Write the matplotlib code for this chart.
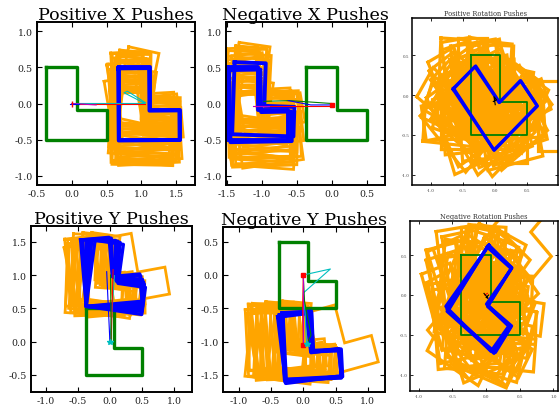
import numpy as np
import matplotlib
matplotlib.use("Agg")
import matplotlib.pyplot as plt

plt.rcParams['font.family'] = ['DejaVu Serif']
plt.rcParams['axes.unicode_minus'] = False

# L-shaped object outline in its body frame
L_X = [-0.375, 0.07, 0.07, 0.5, 0.5, -0.375]
L_Y = [0.5, 0.5, -0.09, -0.09, -0.5, -0.5]

titles = ["Positive X Pushes", "Negative X Pushes", "Positive Rotation Pushes",
          "Positive Y Pushes", "Negative Y Pushes", "Negative Rotation Pushes"]

# start pose (green) is the origin for every panel
start_pose = (0.0, 0.0, 0.0)

# orange: sampled poses (x, y, theta in degrees)
orange_posx = [(0.96, 0.22, 3), (1.02, 0.21, -5), (0.94, 0.18, -2), (1.00, 0.17, 6), (1.06, 0.18, -1),
               (0.97, 0.13, -6), (1.03, 0.12, 4), (0.93, 0.08, 5), (0.99, 0.07, -3), (1.05, 0.09, 2),
               (0.96, 0.03, -7), (1.02, 0.02, 7), (0.94, -0.02, 1), (1.00, -0.03, -4), (1.06, -0.01, 5),
               (0.97, -0.07, 3), (1.03, -0.08, -6), (0.93, -0.12, -3), (0.99, -0.11, 8), (1.05, -0.13, 0),
               (0.96, -0.17, 5), (1.02, -0.18, -2), (0.94, -0.22, -5), (1.00, -0.23, 2), (1.06, -0.21, -7),
               (0.97, -0.27, 6), (1.03, -0.28, -3), (0.93, -0.31, 1), (0.99, -0.32, -5), (1.05, -0.30, 4),
               (0.96, -0.35, -1), (1.02, -0.34, 3), (1.08, 0.22, -12), (0.92, -0.12, 10),
               (1.07, -0.05, -9), (0.95, 0.10, 9)]
orange_negx = [(-1.10, 0.28, 3), (-1.04, 0.27, -5), (-0.98, 0.25, 2), (-1.12, 0.22, -2), (-1.01, 0.20, 6),
               (-0.96, 0.17, -3), (-1.08, 0.14, 5), (-1.02, 0.11, -6), (-0.97, 0.08, 4), (-1.11, 0.05, -1),
               (-1.05, 0.02, 7), (-0.99, -0.02, -4), (-1.09, -0.05, 2), (-0.95, -0.07, 6), (-1.03, -0.10, -7),
               (-1.12, -0.13, 4), (-0.98, -0.15, -2), (-1.06, -0.18, 5), (-1.00, -0.21, -5), (-1.10, -0.24, 1),
               (-0.96, -0.26, 3), (-1.04, -0.29, -3), (-1.11, -0.32, 6), (-0.99, -0.34, -1), (-1.06, -0.37, 2),
               (-1.01, -0.38, -4), (-0.96, 0.15, 10), (-1.05, 0.00, -10), (-0.98, -0.20, -9), (-1.09, 0.20, 8),
               (-1.02, 0.30, -8), (-0.97, -0.35, 8)]
orange_posrot = [(-0.20, 0.22, 0), (0.00, 0.20, 8), (-0.35, 0.18, 15), (0.15, 0.15, -5), (-0.50, 0.12, 25),
                 (-0.10, 0.10, 20), (0.10, 0.05, 35), (-0.40, 0.05, 40), (0.20, 0.00, 10), (-0.60, 0.00, 55),
                 (-0.25, -0.02, 30), (0.05, -0.05, 50), (-0.55, -0.10, 70), (0.15, -0.12, 60), (-0.30, -0.15, 80),
                 (-0.05, -0.18, 45), (0.20, -0.20, 15), (-0.45, -0.22, 5), (-0.15, -0.25, 65), (0.10, -0.28, 25),
                 (-0.35, -0.30, 90), (-0.60, -0.25, 85), (0.00, -0.35, 0), (-0.25, -0.38, 35), (0.15, -0.38, 12),
                 (-0.45, -0.40, 20), (-0.10, 0.18, -8), (-0.30, 0.08, 48), (0.05, 0.10, 28), (-0.65, -0.12, 100),
                 (-0.20, -0.10, 58), (0.25, -0.05, 3), (-0.40, -0.18, 75), (-0.05, -0.32, 18), (0.10, 0.20, 12),
                 (-0.50, 0.20, -3), (-0.15, 0.05, 38), (0.05, -0.22, 72), (-0.35, 0.00, 62), (0.22, 0.10, 22),
                 (-0.55, -0.35, 45), (-0.20, 0.12, 52), (-0.28, 0.15, 5), (0.08, 0.15, 15), (-0.45, 0.08, 32),
                 (0.18, -0.08, 42), (-0.12, -0.05, 25), (-0.52, -0.05, 65), (0.02, -0.12, 80), (-0.38, -0.28, 55),
                 (-0.08, -0.40, 40), (0.12, -0.32, 35), (-0.62, -0.18, 92), (-0.25, 0.02, 10), (0.00, 0.00, 60),
                 (-0.18, -0.30, 5), (0.20, 0.12, -2), (-0.40, 0.22, 8), (-0.30, -0.08, 88), (0.05, -0.25, 52),
                 (-0.50, -0.28, 30), (-0.10, 0.20, 30), (1.17, -0.20, -90)]
orange_posy = [(-0.28, 1.08, 6), (-0.22, 1.10, -3), (-0.16, 1.07, 8), (-0.10, 1.10, -6), (-0.04, 1.08, 4),
               (0.02, 1.09, -8), (-0.30, 1.02, -2), (-0.24, 1.03, 9), (-0.18, 1.01, -5), (-0.12, 1.03, 3),
               (-0.06, 1.02, -9), (0.00, 1.01, 6), (0.05, 1.03, -3), (-0.27, 0.96, 4), (-0.21, 0.95, -7),
               (-0.15, 0.97, 7), (-0.09, 0.95, -1), (-0.03, 0.96, 9), (0.03, 0.95, -6), (-0.29, 0.91, -4),
               (-0.19, 0.90, 2), (-0.11, 0.92, -9), (-0.01, 0.90, 5), (0.04, 0.92, 1), (-0.25, 0.99, 11),
               (-0.07, 0.99, -11), (0.35, 1.12, 10)]
orange_negy = [(-0.50, -1.00, 3), (-0.45, -0.95, -4), (-0.40, -1.05, 5), (-0.35, -0.98, -2),
               (-0.30, -1.02, 6), (-0.25, -0.93, -5), (-0.20, -1.06, 2), (-0.15, -0.97, -3),
               (-0.10, -1.03, 4), (-0.05, -0.95, -6), (0.00, -1.05, 1), (0.02, -0.98, -2),
               (-0.48, -1.06, -6), (-0.38, -0.92, 7), (-0.28, -1.07, -1), (-0.18, -0.91, 5),
               (-0.08, -1.08, -4), (-0.42, -1.00, 10), (-0.12, -1.00, -9), (-0.47, -0.93, 1),
               (-0.33, -1.08, -7), (-0.22, -0.99, 8), (-0.02, -1.00, 6), (-0.37, -1.01, -3),
               (-0.26, -0.96, 3), (-0.06, -1.06, -1), (0.01, -0.92, -5), (0.55, -0.95, 15)]
orange_negrot = [(0.00, 0.35, 0), (-0.20, 0.30, 10), (0.15, 0.28, -10), (-0.35, 0.20, 20), (0.25, 0.15, -20),
                 (-0.10, 0.15, -5), (0.05, 0.10, -30), (-0.40, 0.05, 15), (0.30, 0.00, -15), (-0.25, 0.00, 5),
                 (0.10, -0.05, -45), (-0.15, -0.10, -20), (0.30, -0.15, -35), (-0.35, -0.15, 25), (0.00, -0.20, -55),
                 (-0.20, -0.25, -10), (0.20, -0.30, -25), (-0.40, -0.30, 10), (0.05, -0.35, -40), (-0.10, -0.40, 0),
                 (0.25, -0.42, -5), (-0.30, -0.45, -30), (0.10, -0.48, -15), (-0.15, -0.50, 20), (0.35, -0.25, -50),
                 (-0.05, 0.25, -15), (0.20, 0.35, -3), (-0.30, 0.35, 8), (0.15, -0.20, -60), (-0.25, -0.35, -45),
                 (0.38, 0.05, -8), (0.00, -0.05, -38), (-0.10, 0.05, -25), (0.12, 0.22, -35), (-0.30, -0.05, -12),
                 (0.05, -0.25, 12), (-0.05, -0.45, -22), (0.25, -0.10, -2), (-0.20, 0.15, -28), (0.10, 0.30, -18),
                 (-0.45, -0.10, 18), (0.30, -0.35, -30), (-0.05, -0.15, -10), (0.20, -0.05, -52), (-0.30, 0.15, -8),
                 (0.05, 0.05, -12), (-0.20, -0.45, -5), (0.15, -0.45, -32), (-0.38, -0.40, 5), (0.32, 0.20, -25),
                 (-0.12, -0.30, -48), (0.08, 0.35, -5), (-0.25, 0.25, 22), (0.00, -0.52, -20), (-0.42, 0.15, 12),
                 (0.22, -0.20, -12), (-0.08, 0.00, -58), (0.28, 0.10, -40), (0.68, 0.90, -45)]

# blue: final poses
blue_posx = [(1.05, 0.0, 0), (1.045, -0.01, 0.5)]
blue_negx = [(-1.12, 0.0, 0), (-1.03, 0.06, -2), (-1.08, -0.03, 1)]
blue_posrot = [(-0.05, -0.07, 40), (-0.045, -0.065, 39)]
blue_posy = [(-0.04, 1.061, 5), (-0.022, 1.049, 3), (0.005, 1.03, 0), (0.031, 1.01, -3),
             (0.047, 0.995, -5), (0.071, 0.973, -8)]
blue_negy = [(0.05, -1.07, 5), (0.08, -1.05, 3), (0.04, -1.08, 7), (0.07, -1.06, 2)]
blue_negrot = [(0.02, -0.01, -38), (0.03, -0.02, -36), (0.01, 0.0, -40), (0.02, -0.03, -37)]

# pusher trajectories: (color, xs, ys)
traj_posx = [("c", [0.0, 1.05, 0.75, 0.80, 1.06], [0.0, 0.0, 0.15, 0.17, 0.01]),
             ("r", [0.0, 1.05], [-0.005, -0.005]),
             ("m", [0.0, 0.35], [0.0, -0.02]),
             ("b", [-0.03, 0.1], [0.0, 0.0])]
traj_negx = [("r", [-1.10, 0.0], [-0.03, -0.03]),
             ("g", [-0.97, -0.6, -0.3, 0.0], [0.03, 0.04, 0.02, 0.0]),
             ("b", [-0.62, -0.3, 0.0], [0.04, -0.02, -0.02]),
             ("m", [-1.12, -0.9], [-0.03, -0.03])]
traj_posrot = [("k", [0.0, -0.02, 0.02, -0.03], [-0.12, -0.02, -0.06, -0.08])]
traj_posy = [("c", [0.0, 0.07], [0.0, 0.99]),
             ("r", [0.02, 0.05], [0.02, 1.08]),
             ("b", [0.0, -0.05], [0.0, 1.05]),
             ("g", [0.02, 0.01], [0.0, 1.0])]
traj_negy = [("r", [0.0, -0.01, 0.0], [0.0, -0.5, -1.05]),
             ("c", [0.0, 0.42, 0.0, 0.03, 0.05], [0.0, 0.09, -0.27, -0.6, -1.03]),
             ("g", [0.0, 0.02, 0.12, 0.05], [-0.02, -0.4, -0.9, -1.05]),
             ("m", [0.0, 0.0], [0.0, -1.0])]
traj_negrot = [("r", [-0.02, 0.02], [0.0, 0.02]),
               ("k", [-0.03, 0.03, 0.0, 0.04], [0.02, -0.04, -0.03, 0.0])]

xlims = [(-0.5, 1.77), (-1.51, 0.76), (-1.30, 0.98), (-1.23, 1.28), (-1.245, 1.267), (-1.13, 1.07)]
ylims = [(-1.13, 1.13), (-1.13, 1.13), (-1.13, 0.97), (-0.755, 1.735), (-1.755, 0.72), (-1.2, 0.925)]
xticks = [[-0.5, 0.0, 0.5, 1.0, 1.5], [-1.5, -1.0, -0.5, 0.0, 0.5], [-1.0, -0.5, 0.0, 0.5],
          [-1.0, -0.5, 0.0, 0.5, 1.0], [-1.0, -0.5, 0.0, 0.5, 1.0], [-1.0, -0.5, 0.0, 0.5, 1.0]]
yticks = [[-1.0, -0.5, 0.0, 0.5, 1.0], [-1.0, -0.5, 0.0, 0.5, 1.0], [-1.0, -0.5, 0.0, 0.5],
          [-0.5, 0.0, 0.5, 1.0, 1.5], [-1.5, -1.0, -0.5, 0.0, 0.5], [-1.0, -0.5, 0.0, 0.5]]

oranges = [orange_posx, orange_negx, orange_posrot, orange_posy, orange_negy, orange_negrot]
blues = [blue_posx, blue_negx, blue_posrot, blue_posy, blue_negy, blue_negrot]
trajs = [traj_posx, traj_negx, traj_posrot, traj_posy, traj_negy, traj_negrot]

# axes boxes in pixels: left, right, top, bottom
boxes = [(37, 195, 23, 186), (226, 385, 23, 186), (412, 558, 19, 186),
         (31, 192, 227, 393), (223, 385, 228, 393), (410, 558, 222, 392)]

W, H = 560, 414
fig = plt.figure(figsize=(W / 100, H / 100), dpi=100)


def outline(pose):
    x, y, th = pose
    t = np.deg2rad(th)
    bx = np.array(L_X + [L_X[0]])
    by = np.array(L_Y + [L_Y[0]])
    px = x + bx * np.cos(t) - by * np.sin(t)
    py = y + bx * np.sin(t) + by * np.cos(t)
    return px, py


for i in range(6):
    l, r, t, b = boxes[i]
    ax = fig.add_axes([l / W, 1 - b / H, (r - l) / W, (b - t) / H])
    small = i in (2, 5)
    olw = 2.3 if small else 2.0
    glw = 1.3 if small else 2.4
    blw = 2.2 if small else (2.4 if i == 3 else 2.8)
    for p in oranges[i]:
        px, py = outline(p)
        ax.plot(px, py, color="#FFA500", lw=olw, solid_joinstyle="miter")
    px, py = outline(start_pose)
    ax.plot(px, py, color="#008000", lw=glw)
    for p in blues[i]:
        px, py = outline(p)
        ax.plot(px, py, color="#0000FF", lw=blw)
    for c, xs, ys in trajs[i]:
        ax.plot(xs, ys, color=c, lw=0.8)
    if i == 0:
        ax.plot([0.0], [0.0], marker="|", color="r", ms=5)
    if i == 1:
        ax.plot([0.0], [-0.02], marker="s", color="r", ms=3)
    if i == 3:
        ax.plot([0.0], [0.0], marker="*", color="c", ms=4)
    if i == 4:
        ax.plot([0.0, 0.0], [0.0, -1.05], "s", color="r", ms=2.5)
        ax.plot([0.05], [-1.03], marker="*", color="c", ms=4)
    ax.set_xlim(*xlims[i])
    ax.set_ylim(*ylims[i])
    ax.set_xticks(xticks[i])
    ax.set_yticks(yticks[i])
    ax.set_xticklabels([f"{v:.1f}" for v in xticks[i]])
    ax.set_yticklabels([f"{v:.1f}" for v in yticks[i]])
    if small:
        ax.tick_params(direction="in", top=True, right=True, length=2, width=0.6,
                       labelsize=3, labelcolor="#444444", pad=2)
        for s in ax.spines.values():
            s.set_linewidth(1.1)
        ax.set_title(titles[i], fontsize=4.8, pad=2.5, color="#333333")
    else:
        ax.tick_params(direction="in", top=True, right=True, length=3.5, width=0.8,
                       labelsize=6.8, labelcolor="#222222", pad=3)
        for s in ax.spines.values():
            s.set_linewidth(1.4)
        ax.set_title(titles[i], fontsize=12.6, pad=2)

fig.savefig("out.png", dpi=100)
